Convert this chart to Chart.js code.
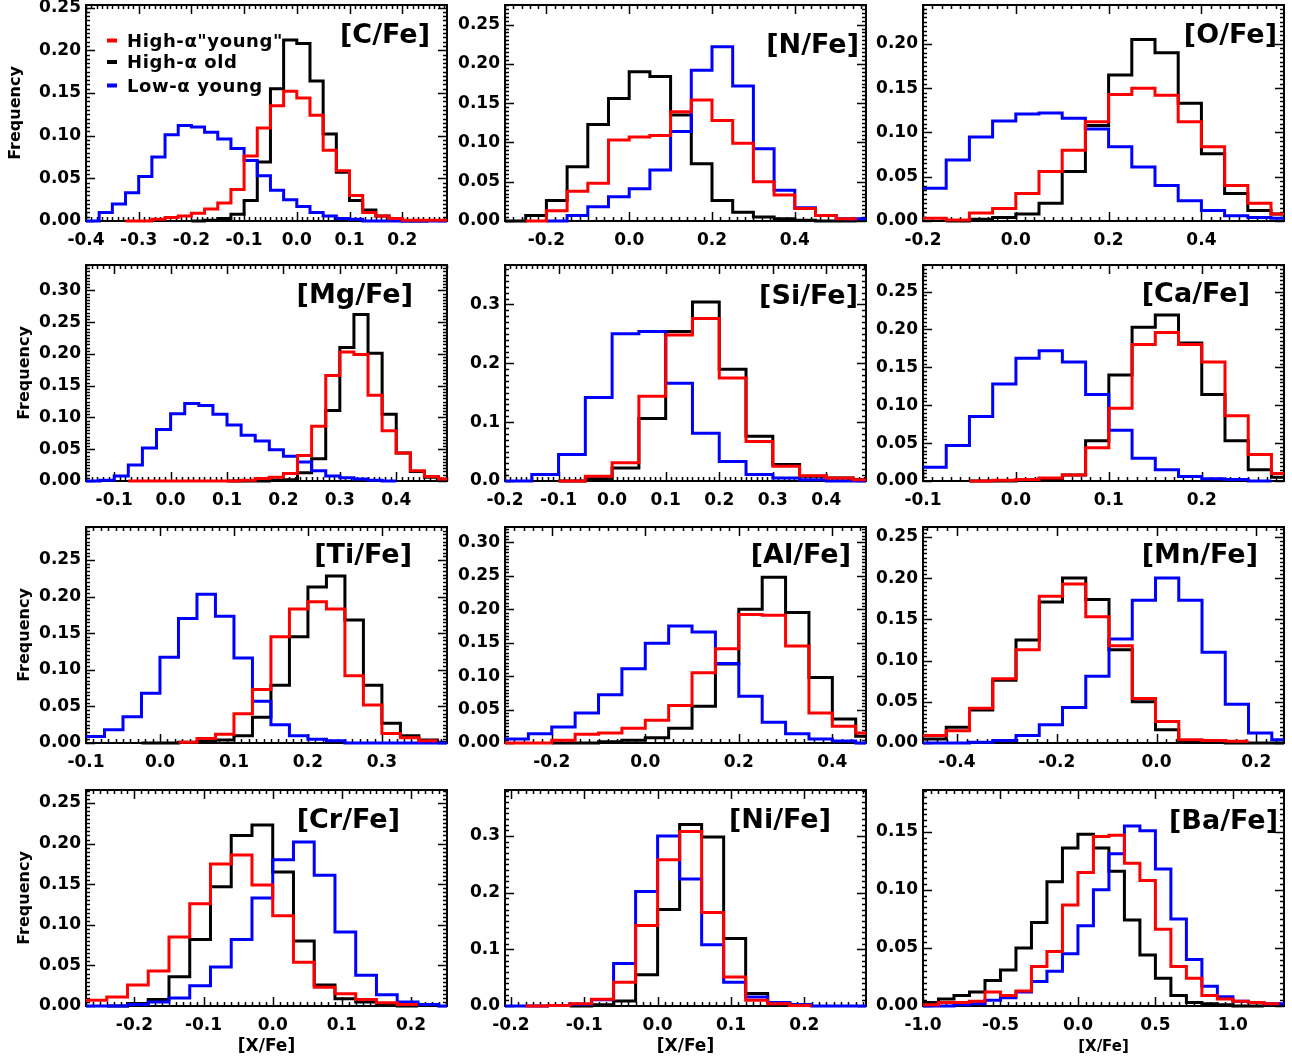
<!DOCTYPE html>
<html>
<head>
<meta charset="utf-8">
<script src="https://cdn.jsdelivr.net/npm/chart.js@4/dist/chart.umd.min.js"></script>
<style>
  body { margin: 0; background: #fff; }
  #wrap { position: relative; width: 1292px; height: 1059px; overflow: hidden; }
  #wrap canvas { position: absolute; }
</style>
</head>
<body>
<div id="wrap"></div>
<script>
// ---------- DATA ----------
const elements = ['[C/Fe]', '[N/Fe]', '[O/Fe]', '[Mg/Fe]', '[Si/Fe]', '[Ca/Fe]',
                  '[Ti/Fe]', '[Al/Fe]', '[Mn/Fe]', '[Cr/Fe]', '[Ni/Fe]', '[Ba/Fe]'];
const seriesNames = ['High-α"young"', 'High-α old', 'Low-α young'];

// histogram bins: first edge and width, per panel
const binStarts = [-0.4, -0.3, -0.2, -0.15, -0.2, -0.1, -0.1, -0.3, -0.468, -0.27, -0.21, -1.0];
const binWidths = [0.025, 0.05, 0.05, 0.025, 0.05, 0.025, 0.025, 0.05, 0.0466, 0.03, 0.03, 0.1];

// axis ranges and ticks
const xRanges = [[-0.4, 0.285], [-0.3, 0.572], [-0.2, 0.578], [-0.15, 0.49], [-0.2, 0.474], [-0.1, 0.2885],
                 [-0.1, 0.388], [-0.3, 0.472], [-0.468, 0.2555], [-0.27, 0.252], [-0.208, 0.284], [-1.0, 1.33]];
const yMaxes = [0.253, 0.275, 0.244, 0.34, 0.367, 0.285, 0.295, 0.323, 0.262, 0.266, 0.381, 0.186];
const xTicks = [
  [-0.4, -0.3, -0.2, -0.1, 0, 0.1, 0.2], [-0.2, 0, 0.2, 0.4], [-0.2, 0, 0.2, 0.4],
  [-0.1, 0, 0.1, 0.2, 0.3, 0.4], [-0.2, -0.1, 0, 0.1, 0.2, 0.3, 0.4], [-0.1, 0, 0.1, 0.2],
  [-0.1, 0, 0.1, 0.2, 0.3], [-0.2, 0, 0.2, 0.4], [-0.4, -0.2, 0, 0.2],
  [-0.2, -0.1, 0, 0.1, 0.2], [-0.2, -0.1, 0, 0.1, 0.2], [-1, -0.5, 0, 0.5, 1]
];
const yTicks = [
  [0, 0.05, 0.10, 0.15, 0.20, 0.25], [0, 0.05, 0.10, 0.15, 0.20, 0.25], [0, 0.05, 0.10, 0.15, 0.20],
  [0, 0.05, 0.10, 0.15, 0.20, 0.25, 0.30], [0, 0.1, 0.2, 0.3], [0, 0.05, 0.10, 0.15, 0.20, 0.25],
  [0, 0.05, 0.10, 0.15, 0.20, 0.25], [0, 0.05, 0.10, 0.15, 0.20, 0.25, 0.30], [0, 0.05, 0.10, 0.15, 0.20, 0.25],
  [0, 0.05, 0.10, 0.15, 0.20, 0.25], [0, 0.1, 0.2, 0.3], [0, 0.05, 0.10, 0.15]
];

// frequencies per bin (null = no line drawn there)
// red: high-alpha "young", black: high-alpha old, blue: low-alpha young
const cYoung = [null, null, null, 0, 0, 0.002, 0.004, 0.006, 0.009, 0.014, 0.021, 0.037, 0.076, 0.109, 0.135, 0.152, 0.144, 0.124, 0.083, 0.059, 0.030, 0.010, 0.006, 0.003, 0.001, 0.001, 0.001, 0.001];
const cOld   = [null, null, null, null, null, null, null, null, 0, 0.001, 0.003, 0.008, 0.024, 0.069, 0.155, 0.212, 0.208, 0.164, 0.102, 0.057, 0.024, 0.013, 0.006, 0.002, 0, 0, null, null];
const cLow   = [0, 0.010, 0.020, 0.033, 0.052, 0.075, 0.101, 0.112, 0.110, 0.104, 0.096, 0.085, 0.071, 0.053, 0.036, 0.025, 0.017, 0.010, 0.006, 0.003, 0.002, 0, 0, 0, 0, 0, 0, 0];

const nYoung = [null, 0, 0.013, 0.038, 0.048, 0.103, 0.107, 0.109, 0.139, 0.154, 0.128, 0.099, 0.050, 0.033, 0.016, 0.007, 0.003, null];
const nOld   = [0, 0.007, 0.026, 0.069, 0.123, 0.156, 0.190, 0.184, 0.135, 0.073, 0.026, 0.011, 0.005, 0.003, 0.001, 0, 0, null];
const nLow   = [null, null, 0, 0.007, 0.018, 0.031, 0.041, 0.065, 0.114, 0.192, 0.222, 0.172, 0.092, 0.039, 0.017, 0.007, 0.003, 0.003];

const oYoung = [0.003, 0.001, 0.009, 0.014, 0.031, 0.056, 0.080, 0.112, 0.143, 0.150, 0.142, 0.112, 0.084, 0.040, 0.020, 0.008];
const oOld   = [null, 0, 0.002, 0.004, 0.008, 0.020, 0.056, 0.108, 0.165, 0.205, 0.190, 0.133, 0.076, 0.031, 0.012, 0.008];
const oLow   = [0.037, 0.069, 0.095, 0.113, 0.121, 0.122, 0.116, 0.104, 0.084, 0.061, 0.040, 0.023, 0.012, 0.006, 0.004, 0.003];

const mgYoung = [null, null, null, 0, 0, 0, 0, 0, 0, 0, 0, 0.001, 0.004, 0.006, 0.012, 0.040, 0.086, 0.166, 0.203, 0.199, 0.135, 0.079, 0.044, 0.016, 0.007, 0.003];
const mgOld   = [null, null, null, null, null, null, null, null, null, null, 0, 0, 0, 0.001, 0.002, 0.013, 0.035, 0.111, 0.210, 0.262, 0.201, 0.105, 0.044, 0.015, 0.006, 0.002];
const mgLow   = [0, 0.001, 0.008, 0.025, 0.052, 0.081, 0.106, 0.122, 0.119, 0.105, 0.088, 0.072, 0.063, 0.049, 0.039, 0.030, 0.016, 0.008, 0.005, 0.003, 0.001, 0, null, null, null, null];

const siYoung = [null, null, 0, 0.008, 0.031, 0.144, 0.248, 0.276, 0.175, 0.067, 0.025, 0.009, 0.005, 0.002];
const siOld   = [null, null, 0, 0.004, 0.022, 0.106, 0.254, 0.304, 0.190, 0.076, 0.028, 0.008, 0.005, 0.002];
const siLow   = [0, 0.011, 0.045, 0.142, 0.250, 0.254, 0.166, 0.081, 0.033, 0.011, 0.005, 0.002, 0, 0];

const caYoung = [null, null, 0, 0.001, 0.002, 0.004, 0.008, 0.044, 0.096, 0.180, 0.196, 0.180, 0.157, 0.086, 0.035, 0.010];
const caOld   = [null, null, 0, 0, 0.001, 0.003, 0.008, 0.053, 0.140, 0.203, 0.219, 0.182, 0.114, 0.053, 0.015, 0.005];
const caLow   = [0.018, 0.047, 0.085, 0.128, 0.162, 0.172, 0.157, 0.114, 0.067, 0.030, 0.015, 0.006, 0.003, 0.002, 0, null];

const tiYoung = [null, null, null, null, null, 0.001, 0.006, 0.012, 0.040, 0.073, 0.145, 0.183, 0.193, 0.183, 0.092, 0.052, 0.013, 0.007, 0.003, null];
const tiOld   = [null, null, null, 0, 0, 0.001, 0.002, 0.004, 0.010, 0.035, 0.079, 0.145, 0.213, 0.228, 0.168, 0.079, 0.027, 0.010, 0.004, 0.001];
const tiLow   = [0.009, 0.018, 0.036, 0.068, 0.117, 0.170, 0.203, 0.173, 0.116, 0.057, 0.025, 0.010, 0.005, 0.003, 0, 0, 0, 0, 0, 0];

const alYoung = [0, 0, 0.004, 0.013, 0.015, 0.022, 0.034, 0.056, 0.105, 0.141, 0.192, 0.191, 0.145, 0.045, 0.025, 0.015];
const alOld   = [null, null, 0, 0, 0.002, 0.004, 0.008, 0.022, 0.055, 0.118, 0.200, 0.248, 0.195, 0.098, 0.036, 0.010];
const alLow   = [0.006, 0.014, 0.024, 0.045, 0.072, 0.111, 0.149, 0.175, 0.166, 0.119, 0.070, 0.031, 0.014, 0.006, 0.003, 0];

const mnYoung = [0.009, 0.015, 0.042, 0.078, 0.113, 0.178, 0.193, 0.153, 0.118, 0.054, 0.026, 0.004, 0.003, 0.002, null, null];
const mnOld   = [0.005, 0.019, 0.040, 0.076, 0.125, 0.171, 0.200, 0.174, 0.113, 0.050, 0.016, 0.003, 0.001, 0, 0, 0];
const mnLow   = [0, 0, 0.001, 0.003, 0.009, 0.022, 0.043, 0.081, 0.126, 0.173, 0.200, 0.173, 0.110, 0.047, 0.012, 0.004];

const crYoung = [0.007, 0.011, 0.026, 0.043, 0.085, 0.126, 0.175, 0.186, 0.149, 0.111, 0.054, 0.023, 0.015, 0.008, 0.004, 0.002, null, null];
const crOld   = [null, 0, 0.003, 0.008, 0.036, 0.082, 0.147, 0.210, 0.223, 0.165, 0.080, 0.026, 0.009, 0.005, 0.001, 0, null, null];
const crLow   = [0, 0, 0.002, 0.005, 0.010, 0.025, 0.048, 0.082, 0.133, 0.180, 0.202, 0.161, 0.091, 0.038, 0.014, 0.005, 0.002, 0];

const niYoung = [null, 0, 0.001, 0.004, 0.012, 0.042, 0.142, 0.258, 0.308, 0.165, 0.051, 0.010, 0.004, 0.001, null, null, null];
const niOld   = [null, null, null, 0, 0.002, 0.009, 0.055, 0.170, 0.320, 0.298, 0.119, 0.022, 0.006, 0.002, null, null, null];
const niLow   = [0, 0, 0.001, 0.003, 0.011, 0.075, 0.202, 0.300, 0.224, 0.108, 0.042, 0.016, 0.006, 0.002, 0, 0, 0];

const baYoung = [0.001, 0.003, 0.003, 0.004, 0.012, 0.009, 0.013, 0.034, 0.047, 0.087, 0.115, 0.146, 0.147, 0.123, 0.108, 0.066, 0.034, 0.024, 0.009, 0.006, 0.004, 0.003, 0.002, null];
const baOld   = [0.003, 0.006, 0.009, 0.012, 0.022, 0.031, 0.050, 0.072, 0.107, 0.136, 0.148, 0.136, 0.116, 0.074, 0.044, 0.024, 0.009, 0.003, 0.002, 0.001, 0, 0, null, null];
const baLow   = [0, 0, 0.001, 0.002, 0.005, 0.007, 0.012, 0.021, 0.030, 0.045, 0.069, 0.100, 0.131, 0.155, 0.151, 0.118, 0.075, 0.040, 0.017, 0.008, 0.004, 0.003, 0.002, 0.002];

const youngSeries = [cYoung, nYoung, oYoung, mgYoung, siYoung, caYoung, tiYoung, alYoung, mnYoung, crYoung, niYoung, baYoung];
const oldSeries   = [cOld, nOld, oOld, mgOld, siOld, caOld, tiOld, alOld, mnOld, crOld, niOld, baOld];
const lowSeries   = [cLow, nLow, oLow, mgLow, siLow, caLow, tiLow, alLow, mnLow, crLow, niLow, baLow];

// ---------- LAYOUT / STYLE ----------
const plotLeft = [86, 505, 923];
const plotTop = [5, 265, 527, 790];
const PLOT_W = 361, PLOT_H = 216, AXIS_W = 80, AXIS_H = 55, PAD_T = 5, PAD_R = 10;
const titleOffsets = [[17, 31], [7, 41], [7, 31], [34, 31], [8, 32], [34, 30],
                      [35, 29], [15, 29], [26, 29], [47, 31], [35, 31], [6, 32]];
const colors = { young: '#ff0000', old: '#000000', low: '#0000ff' };
const FONT = '"DejaVu Sans", "Liberation Sans", sans-serif';

Chart.defaults.font.family = FONT;

// bins -> points for a stepped line (value held from a bin's left edge to its right edge)
function steps(vals, start, width) {
  const pts = [];
  vals.forEach((v, k) => {
    if (v === null) return;
    const x0 = start + k * width;
    if ((k === 0 || vals[k - 1] === null) && pts.length) pts.push({ x: x0, y: null });
    pts.push({ x: x0, y: v });
    if (k === vals.length - 1 || vals[k + 1] === null) pts.push({ x: x0 + width, y: v });
  });
  return pts;
}

function makePanelPlugin(i) {
  const col = i % 3, row = Math.floor(i / 3);
  return {
    id: 'panel' + i,
    beforeDatasetsDraw(chart) {
      const { ctx, chartArea: a, scales: { x, y } } = chart;
      const marks = (min, max, step, fn) => {
        const minor = step / 10;
        for (let k = Math.ceil(min / minor - 1e-6); k <= Math.floor(max / minor + 1e-6); k++) {
          fn(k * minor, k % 10 === 0);
        }
      };
      ctx.save();
      ctx.strokeStyle = '#000';
      ctx.lineWidth = 1.5;
      ctx.beginPath();
      marks(x.min, x.max, xTicks[i][1] - xTicks[i][0], (v, major) => {
        const p = Math.round(x.getPixelForValue(v)) + 0.5, len = major ? 9 : 4;
        ctx.moveTo(p, a.bottom); ctx.lineTo(p, a.bottom - len);
        ctx.moveTo(p, a.top); ctx.lineTo(p, a.top + len);
      });
      marks(y.min, y.max, yTicks[i][1] - yTicks[i][0], (v, major) => {
        const p = Math.round(y.getPixelForValue(v)) + 0.5, len = major ? 9 : 4;
        ctx.moveTo(a.left, p); ctx.lineTo(a.left + len, p);
        ctx.moveTo(a.right, p); ctx.lineTo(a.right - len, p);
      });
      ctx.stroke();
      ctx.lineWidth = 2;
      ctx.strokeRect(a.left, a.top, a.right - a.left, a.bottom - a.top);
      ctx.restore();
    },
    afterDatasetsDraw(chart) {
      const { ctx, chartArea: a } = chart;
      ctx.save();
      ctx.fillStyle = '#000';
      // element label
      ctx.font = 'bold 27px ' + FONT;
      ctx.textAlign = 'right';
      ctx.textBaseline = 'middle';
      ctx.fillText(elements[i], a.right - titleOffsets[i][0], a.top + titleOffsets[i][1]);

      // legend (first panel only)
      if (i === 0) {
        const legendColors = [colors.young, colors.old, colors.low];
        const rows = [41.5, 63, 86.5];
        ctx.font = 'bold 18px ' + FONT;
        ctx.textAlign = 'left';
        ctx.textBaseline = 'alphabetic';
        if ('letterSpacing' in ctx) ctx.letterSpacing = '0.6px';
        seriesNames.forEach((name, k) => {
          ctx.strokeStyle = legendColors[k];
          ctx.lineWidth = 4;
          ctx.beginPath();
          ctx.moveTo(a.left + 21, a.top + rows[k] - 6);
          ctx.lineTo(a.left + 31, a.top + rows[k] - 6);
          ctx.stroke();
          ctx.fillText(name, a.left + 41, a.top + rows[k]);
        });
        if ('letterSpacing' in ctx) ctx.letterSpacing = '0px';
      }

      // y title on left column
      if (col === 0) {
        ctx.save();
        ctx.font = 'bold 16px ' + FONT;
        ctx.textAlign = 'center';
        ctx.textBaseline = 'middle';
        ctx.translate(row === 0 ? 10 : 19, (a.top + a.bottom) / 2);
        ctx.rotate(-Math.PI / 2);
        ctx.fillText('Frequency', 0, 0);
        ctx.restore();
      }

      // x title on bottom row
      if (row === 3) {
        ctx.font = 'bold ' + (col === 2 ? 15 : 17) + 'px ' + FONT;
        ctx.textAlign = 'center';
        ctx.textBaseline = 'middle';
        ctx.fillText('[X/Fe]', (a.left + a.right) / 2, a.bottom + 41);
      }
      ctx.restore();
    }
  };
}

// ---------- CHARTS ----------
const wrap = document.getElementById('wrap');
const tickFont = { family: FONT, weight: 'bold', size: 17 };

elements.forEach((name, i) => {
  const col = i % 3, row = Math.floor(i / 3);
  const cv = document.createElement('canvas');
  cv.width = AXIS_W + PLOT_W + PAD_R;
  cv.height = PAD_T + PLOT_H + AXIS_H;
  cv.style.left = (plotLeft[col] - AXIS_W) + 'px';
  cv.style.top = (plotTop[row] - PAD_T) + 'px';
  wrap.appendChild(cv);

  const yDec = (yTicks[i][1] - yTicks[i][0]) >= 0.1 - 1e-9 ? 1 : 2;
  const line = (vals, color) => ({
    data: steps(vals, binStarts[i], binWidths[i]),
    borderColor: color,
    borderWidth: 3,
    pointRadius: 0,
    stepped: 'before',
    fill: false,
    clip: { left: 0, top: 0, right: 0, bottom: 4 }
  });

  new Chart(cv, {
    type: 'line',
    data: {
      datasets: [
        line(youngSeries[i], colors.young),
        line(lowSeries[i], colors.low),
        line(oldSeries[i], colors.old)
      ]
    },
    options: {
      responsive: false,
      animation: false,
      events: [],
      layout: { padding: { top: PAD_T, right: PAD_R, left: 0, bottom: 0 } },
      plugins: { legend: { display: false }, tooltip: { enabled: false } },
      scales: {
        x: {
          type: 'linear',
          min: xRanges[i][0],
          max: xRanges[i][1],
          grid: { display: false, drawTicks: false },
          border: { display: false },
          afterFit: s => { s.height = AXIS_H; s.paddingLeft = 0; s.paddingRight = 0; },
          afterBuildTicks: s => { s.ticks = xTicks[i].map(v => ({ value: v })); },
          ticks: {
            padding: 9, maxRotation: 0, autoSkip: false, color: '#000', font: tickFont,
            callback: v => Number(v).toFixed(1)
          }
        },
        y: {
          type: 'linear',
          min: 0,
          max: yMaxes[i],
          grid: { display: false, drawTicks: false },
          border: { display: false },
          afterFit: s => { s.width = AXIS_W; s.paddingTop = 0; s.paddingBottom = 0; },
          afterBuildTicks: s => { s.ticks = yTicks[i].map(v => ({ value: v })); },
          ticks: {
            padding: 5, autoSkip: false, color: '#000', font: tickFont,
            callback: v => Number(v).toFixed(yDec)
          }
        }
      }
    },
    plugins: [makePanelPlugin(i)]
  });
});
</script>
</body>
</html>
